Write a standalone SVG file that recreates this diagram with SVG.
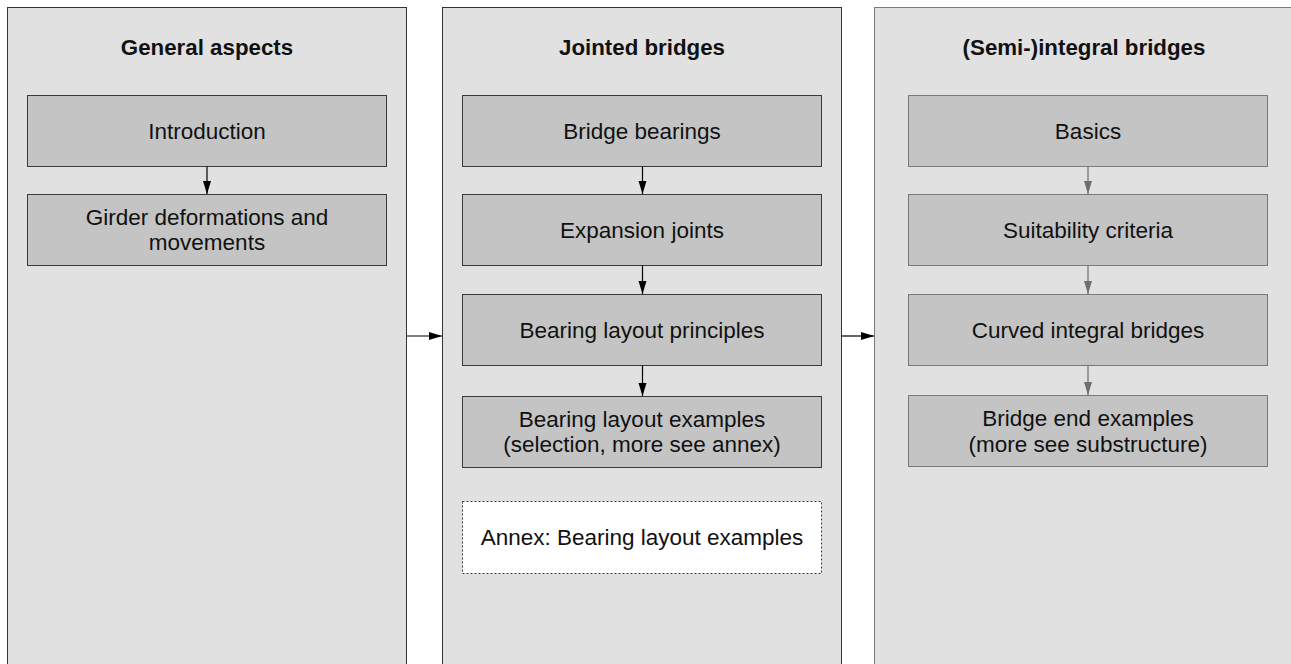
<svg xmlns="http://www.w3.org/2000/svg" width="1291" height="664" viewBox="0 0 1291 664">
  <defs>
    <style>
      .panel { fill: #e1e1e1; stroke: #333333; stroke-width: 1; }
      .panel-light { fill: #e1e1e1; stroke: #7a7a7a; stroke-width: 1; }
      .box { fill: #c4c4c4; stroke: #3a3a3a; stroke-width: 1; }
      .box-light { fill: #c4c4c4; stroke: #7a7a7a; stroke-width: 1; }
      .annex { fill: #ffffff; stroke: #3a3a3a; stroke-width: 1; stroke-dasharray: 2 2; }
      .title { font-family: "Liberation Sans", Arial, sans-serif; font-size: 22.3px; font-weight: bold; fill: #111111; text-anchor: middle; }
      .label { font-family: "Liberation Sans", Arial, sans-serif; font-size: 22.5px; fill: #111111; text-anchor: middle; }
      .conn { fill: none; stroke: #000000; stroke-width: 1.2; }
      .conn-light { fill: none; stroke: #6e6e6e; stroke-width: 1.2; }
    </style>
    <marker id="head" markerUnits="userSpaceOnUse" markerWidth="14" markerHeight="9" refX="13" refY="4" orient="auto">
      <path d="M0,0 L13,4 L0,8 z" fill="#000000"/>
    </marker>
    <marker id="head-light" markerUnits="userSpaceOnUse" markerWidth="14" markerHeight="9" refX="13" refY="4" orient="auto">
      <path d="M0,0 L13,4 L0,8 z" fill="#6e6e6e"/>
    </marker>
  </defs>

  <rect width="1291" height="664" fill="#ffffff"/>

  <!-- Column: general aspects -->
  <g id="panel-general">
    <rect class="panel" x="7.5" y="7.5" width="399" height="700"/>
    <text class="title" x="207" y="54.5">General aspects</text>
  </g>
  <g id="node-introduction">
    <rect class="box" x="27.5" y="95.5" width="359" height="71"/>
    <text class="label" x="207" y="138.8">Introduction</text>
  </g>
  <g id="node-girder">
    <rect class="box" x="27.5" y="194.5" width="359" height="71"/>
    <text class="label" x="207" y="224.5">Girder deformations and</text>
    <text class="label" x="207" y="249.8">movements</text>
  </g>

  <!-- Column: jointed bridges -->
  <g id="panel-jointed">
    <rect class="panel" x="442.5" y="7.5" width="399" height="700"/>
    <text class="title" x="642" y="54.5">Jointed bridges</text>
  </g>
  <g id="node-bearings">
    <rect class="box" x="462.5" y="95.5" width="359" height="71"/>
    <text class="label" x="642" y="138.8">Bridge bearings</text>
  </g>
  <g id="node-expansion">
    <rect class="box" x="462.5" y="194.5" width="359" height="71"/>
    <text class="label" x="642" y="237.8">Expansion joints</text>
  </g>
  <g id="node-principles">
    <rect class="box" x="462.5" y="294.5" width="359" height="71"/>
    <text class="label" x="642" y="337.8">Bearing layout principles</text>
  </g>
  <g id="node-examples">
    <rect class="box" x="462.5" y="396.5" width="359" height="71"/>
    <text class="label" x="642" y="427">Bearing layout examples</text>
    <text class="label" x="642" y="452.3">(selection, more see annex)</text>
  </g>
  <g id="node-annex">
    <rect class="annex" x="462.5" y="501.5" width="359" height="72"/>
    <text class="label" x="642" y="545.3">Annex: Bearing layout examples</text>
  </g>

  <!-- Column: (semi-)integral bridges -->
  <g id="panel-integral">
    <rect class="panel-light" x="874.5" y="7.5" width="430" height="700"/>
    <text class="title" x="1084" y="54.5">(Semi-)integral bridges</text>
  </g>
  <g id="node-basics">
    <rect class="box-light" x="908.5" y="95.5" width="359" height="71"/>
    <text class="label" x="1088" y="138.8">Basics</text>
  </g>
  <g id="node-suitability">
    <rect class="box-light" x="908.5" y="194.5" width="359" height="71"/>
    <text class="label" x="1088" y="237.8">Suitability criteria</text>
  </g>
  <g id="node-curved">
    <rect class="box-light" x="908.5" y="294.5" width="359" height="71"/>
    <text class="label" x="1088" y="337.8">Curved integral bridges</text>
  </g>
  <g id="node-bridge-end">
    <rect class="box-light" x="908.5" y="395.5" width="359" height="71"/>
    <text class="label" x="1088" y="426.3">Bridge end examples</text>
    <text class="label" x="1088" y="451.6">(more see substructure)</text>
  </g>

  <!-- Connectors -->
  <g id="connectors">
    <line class="conn" x1="207" y1="166.5" x2="207" y2="194" marker-end="url(#head)"/>

    <line class="conn" x1="642.5" y1="166.5" x2="642.5" y2="194" marker-end="url(#head)"/>
    <line class="conn" x1="642.5" y1="265.5" x2="642.5" y2="294" marker-end="url(#head)"/>
    <line class="conn" x1="642.5" y1="365.5" x2="642.5" y2="396" marker-end="url(#head)"/>

    <line class="conn-light" x1="1088" y1="166.5" x2="1088" y2="194" marker-end="url(#head-light)"/>
    <line class="conn-light" x1="1088" y1="265.5" x2="1088" y2="294" marker-end="url(#head-light)"/>
    <line class="conn-light" x1="1088" y1="365.5" x2="1088" y2="395" marker-end="url(#head-light)"/>

    <line class="conn" x1="407" y1="336" x2="442" y2="336" marker-end="url(#head)"/>
    <line class="conn" x1="842" y1="336" x2="874" y2="336" marker-end="url(#head)"/>
  </g>
</svg>
